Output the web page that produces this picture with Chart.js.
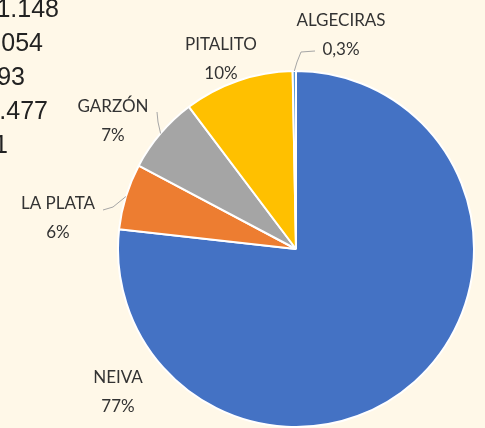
<!DOCTYPE html>
<html>
<head>
<meta charset="utf-8">
<script src="https://cdn.jsdelivr.net/npm/chart.js@4.4.1/dist/chart.umd.min.js"></script>
<style>
  html, body { margin: 0; padding: 0; background: #FFF8E8; }
  canvas { display: block; }
</style>
</head>
<body>
<canvas id="c" width="485" height="428"></canvas>
<script>
// ---- data ----
const categories = ["NEIVA", "LA PLATA", "GARZÓN", "PITALITO", "ALGECIRAS"];
const percentLabels = ["77%", "6%", "7%", "10%", "0,3%"];
const values = [77, 6, 7, 10, 0.3];
const sliceColors = ["#4472C4", "#ED7D31", "#A5A5A5", "#FFC000", "#5B9BD5"];
// partially visible text at the top-left edge
const cornerTexts = ["1.148", "054", "93", ".477", "1"];

// label placement (text centre) and leader lines, in pixels
const labelPos = [
  { x: 118, y: 378, line: null },
  { x: 58, y: 204, line: [[103, 210], [113, 207]] },
  { x: 113, y: 107, line: [[157, 112], [158, 122]] },
  { x: 221, y: 45, line: null },
  { x: 341, y: 21, line: [[315, 51], [301, 52], [297, 62]] }
];
const cornerRight = [59, 43, 25, 48, 8];

const bgPlugin = {
  id: 'bg',
  beforeDraw(chart) {
    const ctx = chart.ctx;
    ctx.save();
    ctx.fillStyle = '#FFF8E8';
    ctx.fillRect(0, 0, chart.width, chart.height);
    ctx.restore();
  }
};

const labelPlugin = {
  id: 'labels',
  afterDatasetsDraw(chart) {
    const ctx = chart.ctx;
    const arcs = chart.getDatasetMeta(0).data;
    ctx.save();
    ctx.strokeStyle = '#A6A6A6';
    ctx.lineWidth = 1;
    arcs.forEach((arc, i) => {
      const lp = labelPos[i];
      if (!lp.line) return;
      const mid = (arc.startAngle + arc.endAngle) / 2;
      const ex = arc.x + Math.cos(mid) * arc.outerRadius;
      const ey = arc.y + Math.sin(mid) * arc.outerRadius;
      ctx.beginPath();
      ctx.moveTo(lp.line[0][0], lp.line[0][1]);
      for (let k = 1; k < lp.line.length; k++) ctx.lineTo(lp.line[k][0], lp.line[k][1]);
      ctx.lineTo(ex, ey);
      ctx.stroke();
    });
    ctx.fillStyle = '#333333';
    ctx.textAlign = 'center';
    ctx.textBaseline = 'middle';
    ctx.font = '17px Lato';
    categories.forEach((c, i) => {
      const lp = labelPos[i];
      ctx.fillText(c, lp.x, lp.y);
      ctx.fillText(percentLabels[i], lp.x, lp.y + 29);
    });
    ctx.fillStyle = '#222222';
    ctx.textAlign = 'right';
    ctx.textBaseline = 'alphabetic';
    ctx.font = '25px "Liberation Sans"';
    cornerTexts.forEach((t, i) => {
      ctx.fillText(t, cornerRight[i], 17 + i * 34);
    });
    ctx.restore();
  }
};

new Chart(document.getElementById('c'), {
  type: 'pie',
  data: {
    labels: categories,
    datasets: [{
      data: values,
      backgroundColor: sliceColors,
      borderColor: '#FFFFFF',
      borderWidth: 2
    }]
  },
  options: {
    responsive: false,
    animation: false,
    layout: { padding: { left: 116, right: 9, top: 70, bottom: 0 } },
    plugins: {
      legend: { display: false },
      tooltip: { enabled: false }
    }
  },
  plugins: [bgPlugin, labelPlugin]
});
</script>
</body>
</html>
